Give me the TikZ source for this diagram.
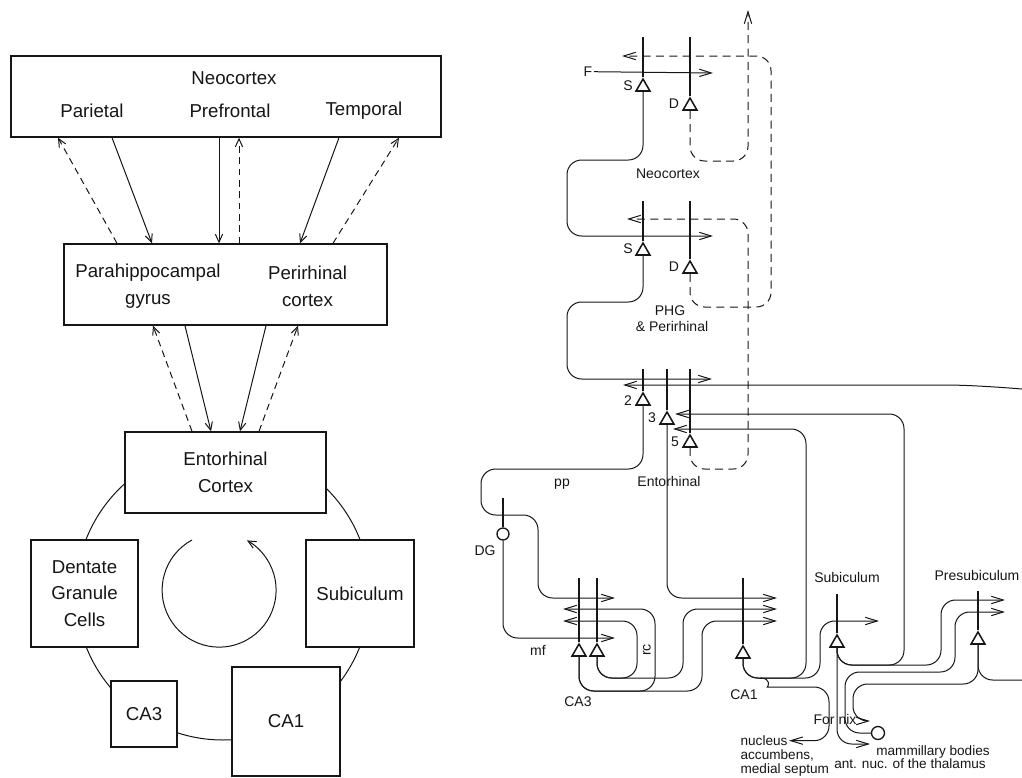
\documentclass[tikz,border=0pt]{standalone}
\usepackage{fontspec}
\setmainfont{Liberation Sans}
\usetikzlibrary{arrows.meta,shapes.geometric,calc}
\definecolor{ink}{HTML}{161616}
\begin{document}
\begin{tikzpicture}[x=0.75pt,y=-0.75pt,
  box/.style={draw=ink,line width=1.05pt,fill=white,inner sep=0pt},
  big/.style={font=\fontsize{14}{20}\selectfont,text=ink,align=center,inner sep=0pt},
  conn/.style={draw=ink,line width=0.75pt},
  larr/.style={conn,-{Straight Barb[length=6pt,width=5.5pt]}},
  ldash/.style={larr,dash pattern=on 5pt off 3.5pt},
  lab/.style={font=\fontsize{10.5}{10.5}\selectfont,text=ink,inner sep=1pt,anchor=mid},
  small/.style={lab,font=\fontsize{10.2}{10.5}\selectfont},
  ax/.style={draw=ink,line width=0.75pt,rounded corners=11pt},
  rarr/.style={ax,-{Straight Barb[length=9pt,width=5.5pt]}},
  rdash/.style={rarr,dash pattern=on 6pt off 4pt},
  dend/.style={draw=ink,line width=1.4pt},
  soma/.style={regular polygon,regular polygon sides=3,draw=ink,line width=1.15pt,fill=white,minimum size=12pt,inner sep=0pt},
  cell/.style={circle,draw=ink,line width=1pt,fill=white,minimum size=9pt,inner sep=0pt},
]
\useasboundingbox (0,0) rectangle (1022,778);

% ================= overview: regions and their loop =================
\draw[conn] (223,593) circle[radius=147];
\node[box,minimum width=322.5pt,minimum height=60.75pt] (neo) at (226,96.5) {};
\node[big] (neoT) at (234,78) {Neocortex};
\node[big] (par) at (92,111) {Parietal};
\node[big] (pref) at (230,111) {Prefrontal};
\node[big] (temp) at (364,111) {Temporal};

\node[box,minimum width=242.25pt,minimum height=60.75pt] (phg) at (225.5,284.5) {};
\node[big] (phgA) at (148,286) {Parahippocampal\\gyrus};
\node[big] (phgB) at (307.5,286) {Perirhinal\\cortex};

\node[box,big,minimum width=150.75pt,minimum height=60.75pt] (ec) at (225.5,472.5) {Entorhinal\\Cortex};
\node[box,big,minimum width=80.25pt,minimum height=80.25pt] (dgc) at (84.5,593.5) {Dentate\\Granule\\Cells};
\node[box,big,minimum width=81pt,minimum height=80.25pt] (subb) at (360,593.5) {Subiculum};
\node[box,big,minimum width=49.5pt,minimum height=49.5pt] (ca3b) at (144,714) {CA3};
\node[box,big,minimum width=81pt,minimum height=81.75pt] (ca1b) at (286,721.5) {CA1};

% circulation arrow
\draw[larr] (192,540) arc[start angle=241.6,end angle=-60.8,radius=57];

% neocortex <-> parahippocampal / perirhinal
\draw[ldash] (117,0 |- phg.north) -- (58,0 |- neo.south);
\draw[larr] (112,0 |- neo.south) -- (152,0 |- phg.north);
\draw[larr] (219,0 |- neo.south) -- (219,0 |- phg.north);
\draw[ldash] (239,0 |- phg.north) -- (239,0 |- neo.south);
\draw[larr] (339,0 |- neo.south) -- (300,0 |- phg.north);
\draw[ldash] (333,0 |- phg.north) -- (399,0 |- neo.south);
% parahippocampal / perirhinal <-> entorhinal
\draw[ldash] (192,0 |- ec.north) -- (153,0 |- phg.south);
\draw[larr] (185,0 |- phg.south) -- (211,0 |- ec.north);
\draw[larr] (266,0 |- phg.south) -- (240,0 |- ec.north);
\draw[ldash] (259,0 |- ec.north) -- (298,0 |- phg.south);

% ================= circuit: cells =================
\node[soma] (neoS) at (643,87) {};
\node[soma] (neoD) at (690,106) {};
\node[soma] (phgS) at (643,251) {};
\node[soma] (phgD) at (690,269) {};
\node[soma] (ec2) at (643,401) {};
\node[soma] (ec3) at (667,420) {};
\node[soma] (ec5) at (690,443) {};
\node[soma] (ca3a) at (579,652) {};
\node[soma] (ca3c) at (597,652) {};
\node[soma] (ca1) at (743,654) {};
\node[soma] (sub) at (837,643) {};
\node[soma] (presub) at (978,640) {};
\node[cell] (dg) at (503,534) {};
\node[cell,minimum size=9.75pt] (mam) at (878,733) {};

% apical dendrites
\draw[dend] (neoS.corner 1) -- ++(0,-40);
\draw[dend] (neoD.corner 1) -- ++(0,-59);
\draw[dend] (phgS.corner 1) -- ++(0,-40);
\draw[dend] (phgD.corner 1) -- ++(0,-58);
\draw[dend] (ec2.corner 1) -- ++(0,-22);
\draw[dend] (ec3.corner 1) -- ++(0,-41);
\draw[dend] (ec5.corner 1) -- ++(0,-64);
\draw[dend] (ca3a.corner 1) -- ++(0,-64);
\draw[dend] (ca3c.corner 1) -- ++(0,-64);
\draw[dend] (ca1.corner 1) -- ++(0,-66);
\draw[dend] (sub.corner 1) -- ++(0,-39);
\draw[dend] (presub.corner 1) -- ++(0,-39);
\draw[dend] (dg.north) -- ++(0,-29);

% labels
\node[lab] (F) at (588,73) {F};
\node[lab] (sNeo) at (628,87) {S};
\node[lab] (dNeo) at (674,105) {D};
\node[lab] (sPhg) at (628,250) {S};
\node[lab] (dPhg) at (674,268) {D};
\node[lab] (n2) at (628,402) {2};
\node[lab] (n3) at (652,419) {3};
\node[lab] (n5) at (675,443) {5};
\node[lab] (lNeo) at (668,175) {Neocortex};
\node[lab] (lPHG) at (670,312) {PHG};
\node[lab] (lPer) at (672,328) {\& Perirhinal};
\node[lab] (lEC) at (669,483) {Entorhinal};
\node[lab] (lpp) at (562,483) {pp};
\node[lab] (lDG) at (485,552) {DG};
\node[lab] (lmf) at (538,652) {mf};
\node[lab,rotate=90] (lrc) at (647,650) {rc};
\node[lab] (lCA3) at (578,703) {CA3};
\node[lab] (lCA1) at (744,696) {CA1};
\node[lab] (lSub) at (847,579) {Subiculum};
\node[lab] (lPre) at (977,577) {Presubiculum};
\node[lab] (lFor) at (835,721) {For\hspace{3pt}nix};
\node[small] (lMam) at (933,752) {mammillary bodies};
\node[small] (lAnt) at (910,765) {ant. nuc. of the thalamus};
\node[small,anchor=mid west] (nac1) at (739,742) {nucleus};
\node[small,anchor=mid west] (nac2) at (739,756) {accumbens,};
\node[small,anchor=mid west] (nac3) at (739,770) {medial septum};

% free ends of axons
\coordinate (fEnd) at (713,73);
\coordinate (neoOut) at (748,10);
\coordinate (neoBack) at (622,56);
\coordinate (phgIn) at (713,236);
\coordinate (phgBack) at (627,219);
\coordinate (ecIn) at (712,379);
\coordinate (ecBack) at (623,385);
\coordinate (retR) at (1022,389);
\coordinate (ec3In) at (675,414);
\coordinate (ec5In) at (673,429);
\coordinate (ppEnd) at (615,598);
\coordinate (mfEnd) at (615,638);
\coordinate (rcA) at (563,609);
\coordinate (rcB) at (563,621);
\coordinate (ca1A) at (777,598);
\coordinate (ca1B) at (777,609);
\coordinate (ca1C) at (777,621);
\coordinate (subIn) at (879,621);
\coordinate (preA) at (1005,600);
\coordinate (preB) at (1005,612);
\coordinate (presubR) at (1022,680);
\coordinate (fornArr) at (870,721);
\coordinate (mamArr) at (870,744);

% ================= circuit: projections =================
\draw[rarr] (F.east) -- (fEnd);
\draw[rarr] (neoS.side 2) |- (567,160) |- (phgIn);
\draw[rdash] (neoD.side 2) |- (748,161) -- (neoOut);
\draw[rdash] (phgD.side 2) |- (771,307) |- (neoBack);
\draw[rarr] (phgS.side 2) |- (567,302) |- (ecIn);
\draw[rdash] (ec5.side 2) |- (748,469) |- (phgBack);
\draw[rarr] (retR) .. controls (985,386) and (960,385) .. (930,385) -- (ecBack);

% entorhinal to hippocampus
\draw[rarr] (ec2.side 2) |- (481,469) |- (538,515) |- (ppEnd);
\draw[rarr] (ec3.side 2) |- (ca1A);
\draw[rarr] (dg.south) |- (mfEnd);

% CA3 recurrent and Schaffer collaterals
\draw[rarr] (ca3a.side 2) |- (702,691) |- (ca1C);
\draw[rarr] (ca3a.side 2) |- (655,691) |- (rcA);
\draw[rarr] (ca3c.side 2) |- (683,678) |- (ca1B);
\draw[rarr] (ca3c.side 2) |- (637,678) |- (rcB);

% CA1 outputs
\draw[rarr] (ca1.side 2) |- (806,678) |- (ec5In);
\draw[rarr] (ca1.side 2) |- (820,678) |- (subIn);
\draw[rarr] (760,678) .. controls (772,678) and (768,687) .. (782,687) -- (829,687) |- (nac1.east);

% subiculum outputs
\draw[rarr] (sub.side 2) |- (904,665) |- (ec3In);
\draw[rarr] (sub.side 2) |- (941,665) |- (preA);
\draw[rarr] (sub.side 2) |- (mamArr);

% presubiculum and thalamic loop
\draw[rarr] (presub.side 2) |- (853,684) |- (fornArr);
\draw[ax] (presub.side 2) |- (presubR);
\draw[rarr] (mam.west) -- (845,733) -- (845,672) -- (955,672) -- (955,612) -- (preB);
\end{tikzpicture}
\end{document}
